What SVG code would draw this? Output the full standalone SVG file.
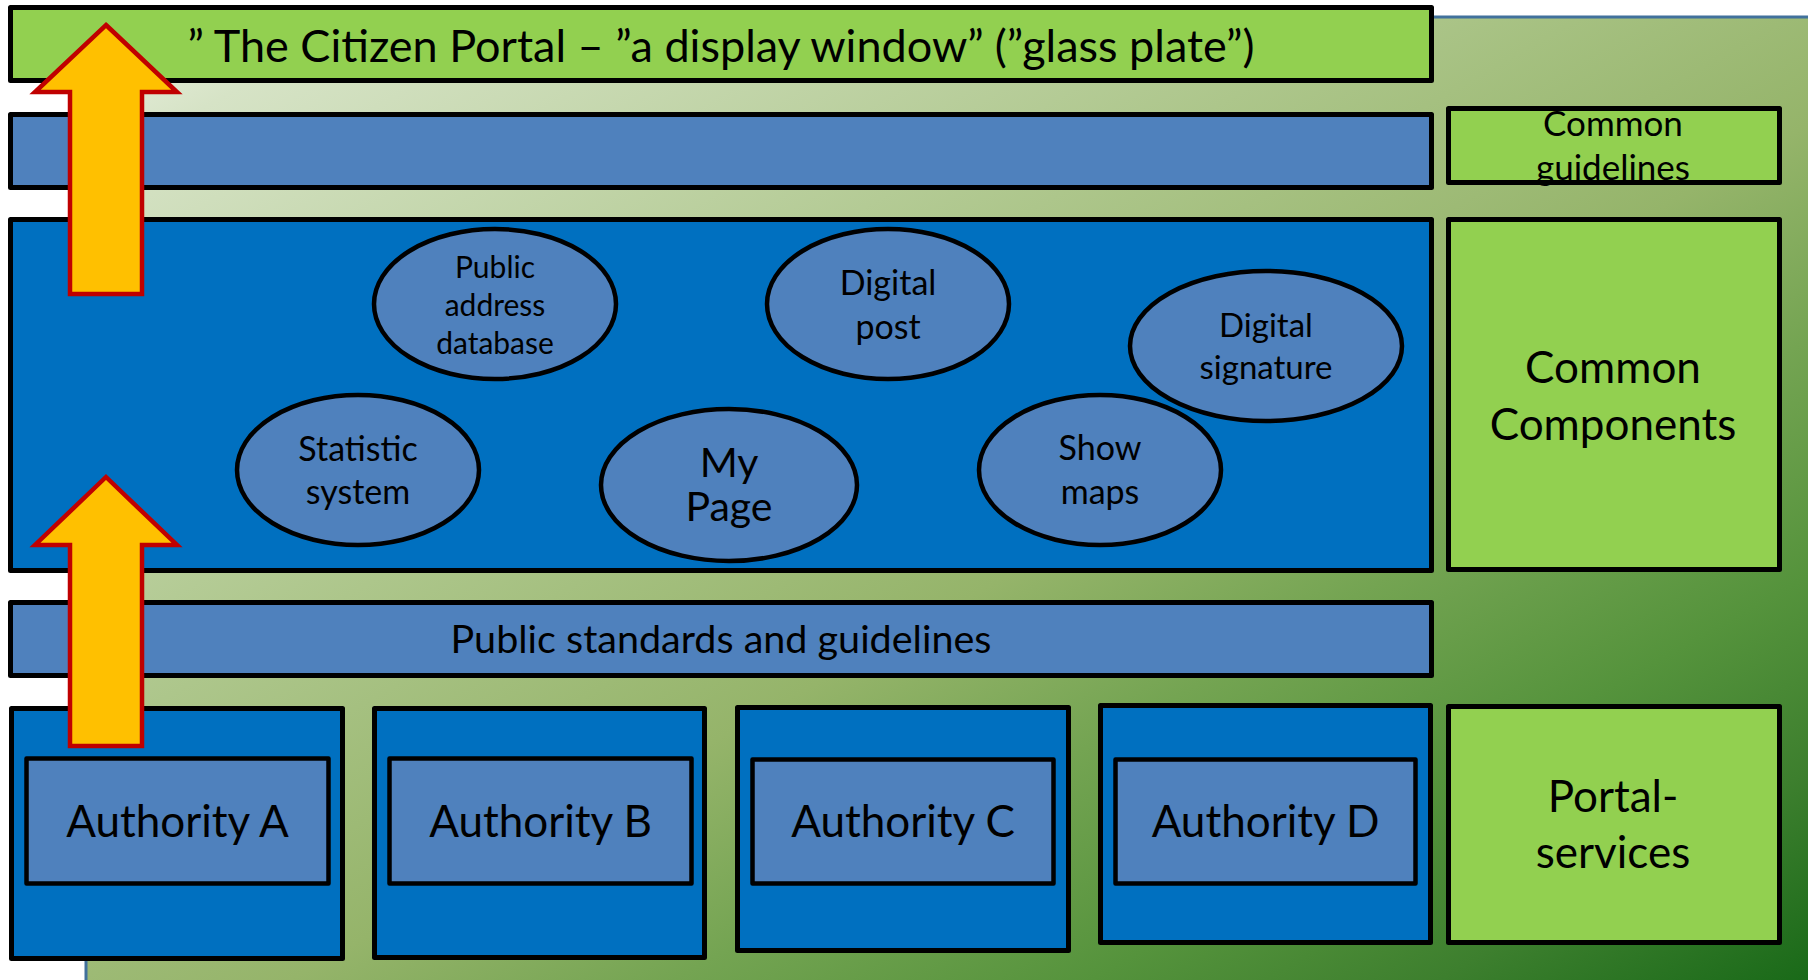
<svg xmlns="http://www.w3.org/2000/svg" width="1808" height="980" viewBox="0 0 1808 980">
<defs>
<linearGradient id="bg" x1="0" y1="0" x2="1" y2="1">
<stop offset="0" stop-color="#eef3e6"/>
<stop offset="0.08" stop-color="#d6e3c6"/>
<stop offset="0.37" stop-color="#adc68b"/>
<stop offset="0.55" stop-color="#95b46a"/>
<stop offset="0.66" stop-color="#74a452"/>
<stop offset="0.78" stop-color="#55933c"/>
<stop offset="0.88" stop-color="#3d7f2e"/>
<stop offset="1" stop-color="#156716"/>
</linearGradient>
<style>
.box{stroke:#000;stroke-width:5;stroke-linejoin:round}
.inner{stroke:#000;stroke-width:4.5;stroke-linejoin:round;fill:#4f81bd}
.green{fill:#92d050}
.lblue{fill:#4f81bd}
.dblue{fill:#0070c0}
.ell{fill:#4f81bd;stroke:#000;stroke-width:4.5}
.arrow{fill:#ffc000;stroke:#c00000;stroke-width:4.5;stroke-linejoin:miter}
text{font-family:Lato,"Open Sans","Liberation Sans",sans-serif;fill:#000;text-anchor:middle}
</style>
</defs>
<rect x="86" y="17" width="1740" height="980" fill="url(#bg)" stroke="#41719c" stroke-width="3"/>

<g id="title">
<rect class="box green" x="10.5" y="7.5" width="1421" height="73"/>
<text x="721" y="62" font-size="45">” The Citizen Portal – ”a display window” (”glass plate”)</text>
</g>
<g id="bar2"><rect class="box lblue" x="10.5" y="114.5" width="1421" height="73"/></g>
<g id="common-guidelines">
<rect class="box green" x="1448.5" y="108.5" width="331" height="74"/>
<text x="1613" y="136" font-size="35">Common</text>
<text x="1613" y="180" font-size="35">guidelines</text>
</g>
<g id="components-area"><rect class="box dblue" x="10.5" y="219.5" width="1421" height="351"/></g>
<g id="common-components">
<rect class="box green" x="1448.5" y="219.5" width="331" height="350"/>
<text x="1613" y="383" font-size="44">Common</text>
<text x="1613" y="440" font-size="44">Components</text>
</g>
<g id="e-pad"><ellipse class="ell" cx="495" cy="304" rx="121" ry="75"/>
<text x="495" y="278" font-size="30">Public</text><text x="495" y="316" font-size="30">address</text><text x="495" y="354" font-size="30">database</text></g>
<g id="e-post"><ellipse class="ell" cx="888" cy="304" rx="121" ry="75"/>
<text x="888" y="295" font-size="34">Digital</text><text x="888" y="339" font-size="34">post</text></g>
<g id="e-sign"><ellipse class="ell" cx="1266" cy="346" rx="136" ry="75"/>
<text x="1266" y="337" font-size="33">Digital</text><text x="1266" y="379" font-size="33">signature</text></g>
<g id="e-stat"><ellipse class="ell" cx="358" cy="470" rx="121" ry="75"/>
<text x="358" y="461" font-size="34">Statistic</text><text x="358" y="504" font-size="34">system</text></g>
<g id="e-mypage"><ellipse class="ell" cx="729" cy="485" rx="128" ry="76"/>
<text x="729" y="477" font-size="41">My</text><text x="729" y="521" font-size="41">Page</text></g>
<g id="e-maps"><ellipse class="ell" cx="1100" cy="470" rx="121" ry="75"/>
<text x="1100" y="460" font-size="34">Show</text><text x="1100" y="504" font-size="34">maps</text></g>

<g id="public-standards">
<rect class="box lblue" x="10.5" y="602.5" width="1421" height="73"/>
<text x="721" y="653" font-size="39.5">Public standards and guidelines</text>
</g>
<g id="authority-a">
<rect class="box dblue" x="11.5" y="708.5" width="331" height="250"/>
<rect class="inner" x="26.5" y="758.5" width="302" height="125"/>
<text x="177.5" y="837" font-size="44">Authority A</text>
</g>
<g id="authority-b">
<rect class="box dblue" x="374.5" y="708.5" width="330" height="249"/>
<rect class="inner" x="389.5" y="758.5" width="302" height="125"/>
<text x="540.5" y="837" font-size="44">Authority B</text>
</g>
<g id="authority-c">
<rect class="box dblue" x="737.5" y="707.5" width="331" height="243"/>
<rect class="inner" x="752.5" y="759.5" width="301" height="124"/>
<text x="903" y="837" font-size="44">Authority C</text>
</g>
<g id="authority-d">
<rect class="box dblue" x="1100.5" y="705.5" width="330" height="237"/>
<rect class="inner" x="1115.5" y="759.5" width="300" height="124"/>
<text x="1265.5" y="837" font-size="44">Authority D</text>
</g>
<g id="portal-services">
<rect class="box green" x="1448.5" y="706.5" width="331" height="236"/>
<text x="1613" y="812" font-size="44">Portal-</text>
<text x="1613" y="868" font-size="44">services</text>
</g>
<g id="connectors">
<polygon class="arrow" points="106,25 177,92 142,92 142,294 70,294 70,92 35,92"/>
<polygon class="arrow" points="106,477 177,545 142,545 142,746 70,746 70,545 35,545"/>
</g>
</svg>
